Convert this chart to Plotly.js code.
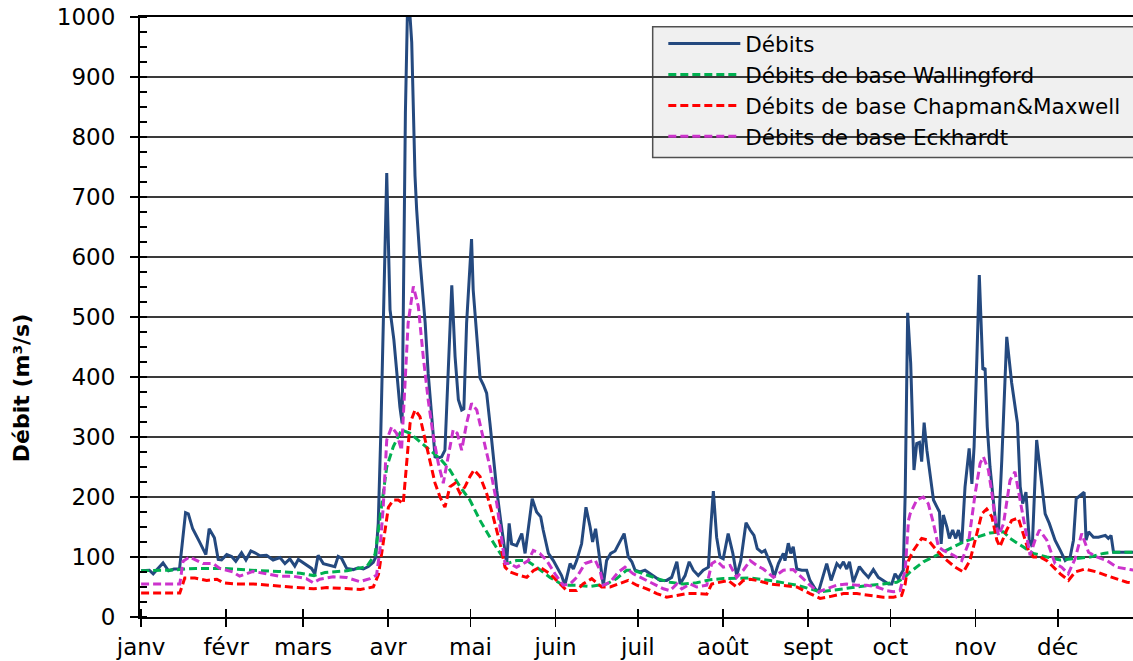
<!DOCTYPE html>
<html>
<head>
<meta charset="utf-8">
<script src="https://cdn.plot.ly/plotly-3.0.1.min.js"></script>
<style>html,body{margin:0;padding:0;background:#fff;}#chart{width:1133px;height:661px;}</style>
</head>
<body>
<div id="chart"></div>
<script>
// Month tick labels and their day-of-year positions
const mois = ["janv","févr","mars","avr","mai","juin","juil","août","sept","oct","nov","déc"];
const debutMois = [0,31,59,90,120,151,181,212,243,273,304,334];

// Débits (day of year, m3/s)
const debitsJours = [0,3,4.4,8,10,12,14,16.2,17.2,18.8,21.2,22.4,23.6,24.8,26.7,28.1,29.3,31.2,33,34.5,36.6,38.2,40,41.5,43.3,45.7,48.1,50.6,52.4,54.2,56,57.3,59.7,62.1,63.3,64.5,66.4,68.8,70.6,71.8,73,74.9,77.3,79.1,81,82.8,84.6,85.5,86.4,87.3,88.3,89.5,90.1,90.7,92.1,93.1,94.3,95.1,95.6,96.3,97,98,98.6,99.2,99.8,100.4,101.6,103.5,104.6,105.9,107.1,108.3,109.5,110.7,112,113.2,114.4,115.6,116.8,117.6,118.6,120.4,121,122.3,123.5,124.7,125.9,127.1,128.3,129.6,131,132.6,133.2,134.1,135,136.8,138.7,139.9,141.1,142.5,144.1,145.6,146.5,148.4,150.2,152,153.2,154.4,156.3,157.5,158.7,160.5,162.1,163.6,164.5,165.6,166.9,168.4,169.6,171.1,172.7,174.5,176,177.5,178.8,180,181.8,183.6,185.4,187.2,189.1,191.5,193.3,195.2,196.4,198.2,199.7,201.2,203,204.8,206.7,207.5,208.5,209.7,210.9,212.1,213.9,215.6,217,218.5,220.4,221.9,223.3,224.5,226.1,227.3,228.5,229.8,230.6,232.2,234,234.6,235.8,236.7,237.6,238.9,240.7,242.5,243.7,245.6,246.8,248,249.8,251.4,253.5,254.7,255.9,257.1,258.1,259.5,261.7,263.2,265,266.8,268.6,270.4,272.3,273.5,274.7,275.9,277.1,277.7,278.4,279.3,280.4,281.6,282.6,283.6,284.4,285.3,286.3,287.5,288.7,289.9,290.9,291.5,292.3,293.6,294.5,295.7,296.8,297.8,299,300.2,301.7,302.7,303.5,304.5,305.4,306.7,307.5,308.3,309.3,310.5,311.5,312.4,313.6,315.4,317.2,319.3,320.3,321.2,322.4,323.6,324.7,326.3,327.6,329.4,330.9,333,334.9,336.7,338.5,339.7,340.7,342.2,343.6,344.3,345.2,347,348.8,351.3,352.4,353.4,354.3,356.7,364];
const debitsValeurs = [77,78,72,90,77,80,80,174,172,147,126,116,104,147,132,96,95,104,101,93,107,95,110,107,102,103,95,99,89,97,85,96,89,81,72,103,89,86,84,101,98,81,79,82,80,84,91,100,156,300,520,740,624,512,462,406,350,323,520,840,1000,1000,958,846,735,679,596,490,406,334,267,265,267,278,420,553,434,362,345,347,490,630,545,462,398,387,373,323,267,211,161,111,89,156,122,119,139,106,145,197,175,167,145,106,94,80,69,53,89,80,94,122,183,150,125,147,100,53,94,106,110,125,139,100,92,78,75,78,72,66,61,61,66,92,55,69,92,78,69,78,83,145,210,133,100,97,139,106,69,94,157,145,136,114,108,111,97,83,66,89,106,94,123,106,117,80,78,78,61,47,42,61,89,61,89,83,92,80,92,58,84,75,66,79,66,61,55,55,72,64,75,78,206,507,423,245,289,291,259,324,278,234,195,184,175,122,170,150,131,145,131,145,122,217,281,222,284,429,570,412,415,317,250,195,150,145,262,467,390,323,217,189,208,128,117,295,239,172,156,128,111,94,100,128,197,203,208,128,142,133,133,136,131,136,108,108,108];

// Débits de base Wallingford
const wallingfordJours = [0,10,20,30,40,50,58,63,67,75,82.2,85.2,85.8,87.6,89.5,91.9,94.9,98,101.6,105.3,108.9,112.5,116.2,119.8,123.5,127.1,130.8,133.2,136.8,140.5,144.1,149,153.8,158.7,163.6,166,169.6,173.3,176.9,179.3,183,187.9,192.7,197.6,202.4,207.3,212.1,217,221.9,229.2,234,238.9,243.7,247.4,251,255.9,260.8,265.6,270.4,275.3,277.7,280.2,285,289.9,294.8,299.6,304.5,309.3,314.2,316.6,320.3,325.1,330,334.9,339.7,345.8,350.6,354.3,364];
const wallingfordValeurs = [77,78,81,81,78,76,73,69,74,77,84,104,122,189,250,284,312,306,292,278,264,245,217,195,161,133,106,89,94,94,83,66,53,53,51,53,55,64,78,78,72,64,58,55,57,62,64,64,65,61,57,53,47,42,44,47,51,53,55,58,64,75,92,103,114,125,133,140,142,131,120,106,100,95,97,100,106,108,108];

// Débits de base Chapman&Maxwell
const chapmanJours = [0,14.1,15.9,19.6,23.9,27.6,30,34.9,41,47.1,53.2,60.4,62.9,67.7,75,79.9,84.6,86.5,88.3,90.1,91.9,93.7,95.5,96.8,98,99.8,101.6,103.5,105.3,107.1,108.9,110.7,112.5,114.4,116.2,118,119.8,121.3,123.5,125.9,128.3,130.8,132.6,134.4,138.1,140.5,142.9,145.3,149,152.6,155.1,158.7,161,164.2,167.8,170.9,173.9,177.5,180.6,184.2,187.9,191.5,195.2,198.8,202.4,206.1,207.9,210.9,213.9,217,219.4,221.9,224.3,229.2,234,238.9,243.7,247.4,251,255.9,260.8,265.6,270.4,274.1,277.1,278.4,279.6,281.4,284.4,286.8,289.9,292.9,296.6,299.6,302,304.5,306.3,308.1,310,311.8,312.9,315.4,317.2,319.6,321.5,323.3,325.1,327.6,330,332.4,334.9,337.9,340.3,343.9,348.2,351.9,355.5,359.2,364];
const chapmanValeurs = [40,40,65,65,61,63,57,55,55,53,51,49,47,49,47,46,50,71,126,183,195,195,189,267,323,345,334,295,256,223,200,183,217,223,206,217,234,245,234,206,167,122,83,75,69,66,77,83,72,55,44,44,55,64,50,50,55,61,53,47,39,33,36,39,39,38,55,58,61,50,61,63,61,55,53,50,39,31,34,39,39,36,33,33,36,55,94,111,131,128,111,97,83,75,94,139,172,180,167,128,117,145,161,165,139,111,100,100,94,83,72,61,75,80,75,69,64,58,55];

// Débits de base Eckhardt
const eckhardtJours = [0,14.1,15.3,17.7,22.6,26.2,28.7,33.5,35.9,38.4,40.8,45.7,50.5,55.4,60.2,62.7,65.1,70,74.8,79.7,83.4,85.8,87,88.2,89.5,91.3,93.1,94.9,96.1,97.3,99.2,101,102.8,104.6,106.5,108.3,110.1,111.9,113.7,115.2,116.8,118.6,120.4,122.3,124.7,127.1,129.6,131.4,132.6,134.4,136.8,139.3,141.1,142.9,145.3,147.8,150.8,153.8,156.3,158.7,161.7,165.4,167.2,168.4,170.9,173.9,176.3,179.3,183,186.6,190.3,192.7,195.2,197,200.1,202.4,206.1,207.9,209.7,212.1,214.6,217,219.4,221.9,224.3,226.7,230.4,234,237.6,240.7,243.7,246.8,249.8,253.5,257.1,260.8,264.4,268.1,271.7,274.1,276.5,278.4,279.6,280.2,282.6,285,286.8,288.7,290.5,292.3,296,299,301.4,303.9,305.7,306.9,308.7,310,311.2,312.4,314.2,316.6,318.4,320.3,322.1,323.9,325.7,327.3,330,333,335.4,337.8,340.3,342.7,345.2,348.2,351.9,355.5,359.2,364];
const eckhardtValeurs = [55,55,93,100,89,89,81,75,68,72,76,72,68,68,64,57,63,67,66,59,64,70,111,182,295,317,306,278,378,490,551,518,434,362,300,256,223,267,312,306,278,323,356,345,295,250,189,133,89,89,83,89,94,111,106,94,72,53,55,66,89,95,78,53,58,75,83,72,64,55,47,44,55,47,55,50,53,89,94,83,86,66,78,94,86,80,66,78,79,66,53,42,47,53,55,53,53,50,44,42,44,78,161,172,195,200,189,156,117,111,103,94,122,206,256,267,245,206,161,136,155,228,242,195,150,103,128,145,128,89,83,72,97,139,108,100,94,83,80,76];

const POLICE = '"DejaVu Sans", "Liberation Sans", Arial, sans-serif';
const dash = '8px,4px';

const traces = [
  {x: debitsJours, y: debitsValeurs, name: 'Débits', type: 'scatter', mode: 'lines',
   line: {color: '#24497f', width: 3}},
  {x: wallingfordJours, y: wallingfordValeurs, name: 'Débits de base Wallingford', type: 'scatter', mode: 'lines',
   line: {color: '#00b050', width: 3, dash: dash}},
  {x: chapmanJours, y: chapmanValeurs, name: 'Débits de base Chapman&Maxwell', type: 'scatter', mode: 'lines',
   line: {color: '#ff0000', width: 3, dash: dash}},
  {x: eckhardtJours, y: eckhardtValeurs, name: 'Débits de base Eckhardt', type: 'scatter', mode: 'lines',
   line: {color: '#cc33cc', width: 3, dash: dash}},
  {x: [0], y: [null], xaxis: 'x2', yaxis: 'y', showlegend: false, hoverinfo: 'skip', mode: 'lines'}
];

const plage = [-0.4, 361.4];

const layout = {
  width: 1133, height: 661,
  margin: {l: 140, r: 0, t: 17, b: 44, pad: 0},
  paper_bgcolor: '#ffffff', plot_bgcolor: '#ffffff',
  font: {family: POLICE, color: '#000000', size: 23},
  showlegend: true,
  xaxis: {
    range: plage, tickvals: debutMois, ticktext: mois,
    ticks: 'outside', ticklen: 8, tickwidth: 1.5, tickcolor: '#000',
    showline: true, linewidth: 2, linecolor: '#000', mirror: true,
    showgrid: false, zeroline: false,
    tickfont: {family: POLICE, size: 23, color: '#000'}
  },
  xaxis2: {
    overlaying: 'x', anchor: 'y', side: 'bottom', range: plage, tickvals: debutMois,
    ticks: 'inside', ticklen: 8, tickwidth: 1.5, tickcolor: '#000',
    showticklabels: false, showline: false, showgrid: false, zeroline: false
  },
  yaxis: {
    range: [0, 1000], tick0: 0, dtick: 100,
    ticks: 'outside', ticklen: 8, tickwidth: 1.5, tickcolor: '#000',
    showline: true, linewidth: 2, linecolor: '#000',
    showgrid: true, gridcolor: '#3a3a3a', gridwidth: 1.2, zeroline: false,
    tickfont: {family: POLICE, size: 23, color: '#000'},
    ticklabelstandoff: 10,
    minor: {dtick: 25, tick0: 0, ticks: 'inside', ticklen: 7, tickwidth: 1.2, tickcolor: '#000', showgrid: false}
  },
  shapes: [{
    type: 'rect', xref: 'paper', yref: 'paper', layer: 'between',
    x0: 0.5163, x1: 1.02, y0: 0.766, y1: 0.9838,
    fillcolor: '#f0f0f0', line: {color: '#505050', width: 1.5}
  }],
  legend: {
    x: 0.527, y: 0.99, xanchor: 'left', yanchor: 'top',
    bgcolor: 'rgba(0,0,0,0)', borderwidth: 0,
    font: {family: POLICE, size: 21.5, color: '#000'},
    itemwidth: 72, tracegroupgap: 0
  },
  annotations: [{
    text: '<b>Débit (m³/s)</b>', textangle: -90, showarrow: false,
    xref: 'paper', yref: 'paper', x: -0.119, y: 0.381, xanchor: 'center', yanchor: 'middle',
    font: {family: POLICE, size: 22, color: '#000'}
  }]
};

Plotly.newPlot('chart', traces, layout, {displayModeBar: false, staticPlot: true});
</script>
</body>
</html>
